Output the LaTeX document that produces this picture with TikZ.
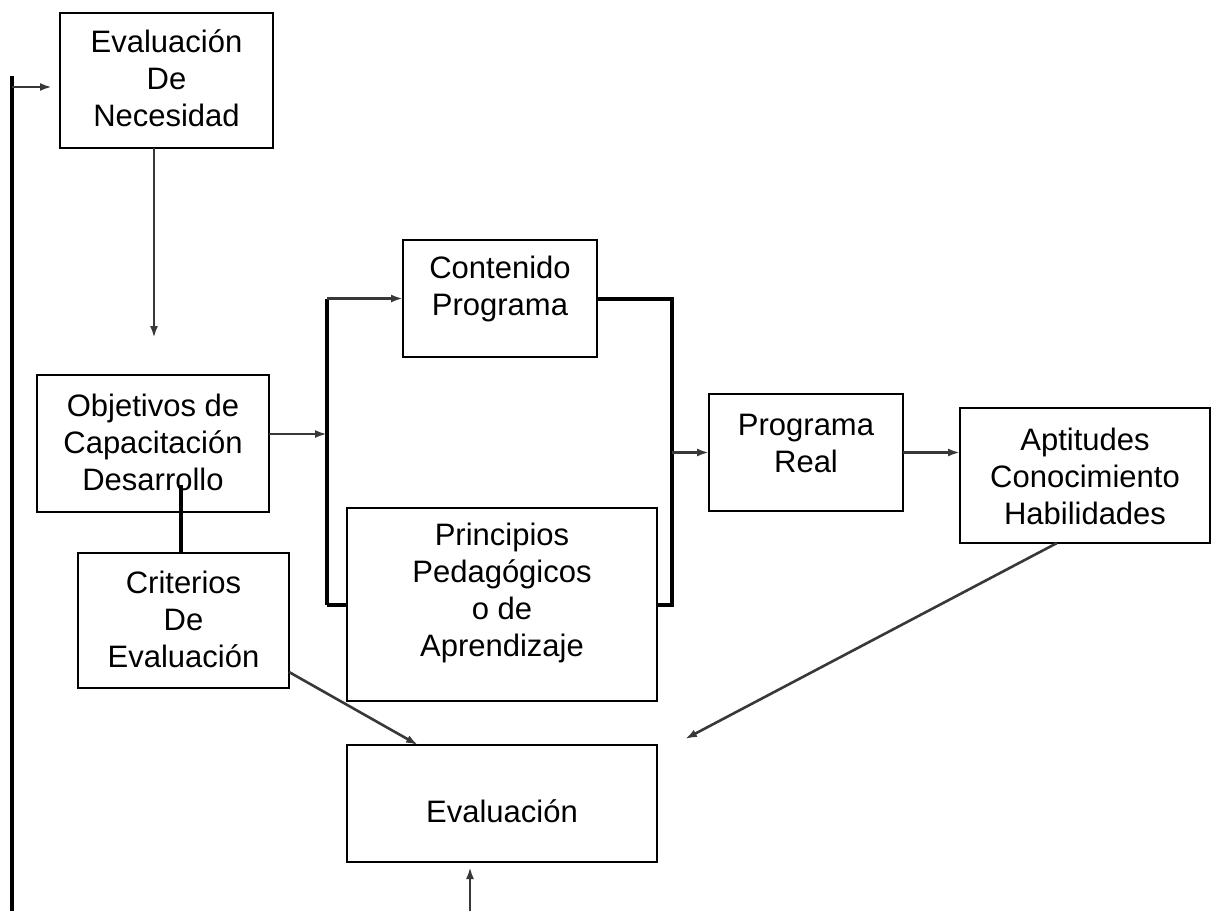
\documentclass[tikz,border=0pt]{standalone}
\usepackage{fontspec}
\setmainfont{Liberation Sans}
\usetikzlibrary{arrows.meta}

\tikzset{
  box/.style={draw=black, line width=2.6pt, fill=white, inner sep=0pt, outer sep=0pt},
  txt/.style={align=center, font=\fontsize{31}{37}\selectfont, inner sep=0pt},
  conn/.style={draw=black!78, line width=2.6pt, -{Latex[length=12pt,width=8pt]}},
  heavy/.style={draw=black, line width=4pt},
}

\begin{document}
\begin{tikzpicture}[x=1pt, y=-1pt]
  \useasboundingbox (0,0) rectangle (1220,911);

  % boxes
  \node[box, minimum width=213, minimum height=135] (necesidad)  at (166.5,80.5) {};
  \node[box, minimum width=194, minimum height=117] (contenido)  at (500,298.5) {};
  \node[box, minimum width=232, minimum height=137] (objetivos)  at (153,443.5) {};
  \node[box, minimum width=310, minimum height=193] (principios) at (502,604.5) {};
  \node[box, minimum width=194, minimum height=117] (real)       at (806,452.5) {};
  \node[box, minimum width=250, minimum height=135] (aptitudes)  at (1085,475.5) {};
  \node[box, minimum width=211, minimum height=135] (criterios)  at (183.5,620.5) {};
  \node[box, minimum width=310, minimum height=117] (evaluacion) at (502,803.5) {};

  % labels
  \node[txt] (necesidad-t)  at (166.5,78)  {Evaluación\\De\\Necesidad};
  \node[txt] (contenido-t)  at (500,289)   {Contenido\\Programa};
  \node[txt] (objetivos-t)  at (153,442)   {Objetivos de\\Capacitación\\Desarrollo};
  \node[txt] (principios-t) at (502,593)   {Principios\\Pedagógicos\\o de\\Aprendizaje};
  \node[txt] (real-t)       at (806,443)   {Programa\\Real};
  \node[txt] (aptitudes-t)  at (1085,476)  {Aptitudes\\Conocimiento\\Habilidades};
  \node[txt] (criterios-t)  at (183.5,619) {Criterios\\De\\Evaluación};
  \node[txt] (evaluacion-t) at (502,811)   {Evaluación};

  % helper points
  \coordinate (fb-top)  at (12,76);
  \coordinate (fb-bot)  at (12,911);
  \coordinate (fb-arr)  at (12,87);
  \coordinate (n-col)   at (154,0);
  \coordinate (o-out)   at (269,434);
  \coordinate (lb-top)  at (327,298.5);
  \coordinate (lb-bot)  at (327,604.5);
  \coordinate (rb-top)  at (672,298.5);
  \coordinate (rb-bot)  at (672,604.5);
  \coordinate (oc-top)  at (181,485);
  \coordinate (c-out)   at (289,672);
  \coordinate (e-col)   at (418,0);
  \coordinate (a-col)   at (1057,0);
  \coordinate (a-end)   at (685,739);
  \coordinate (b-start) at (470,911);

  % feedback loop on the left
  \draw[heavy] (fb-bot) -- (fb-top);
  \draw[conn, shorten >=8pt] (fb-arr) -- (fb-arr -| necesidad.west);

  % needs assessment -> objectives
  \draw[conn, shorten >=37pt] (necesidad.south -| n-col) -- (objetivos.north -| n-col);

  % objectives -> bracket
  \draw[heavy] (lb-top) -- (lb-bot);
  \draw[conn] (o-out) -- (o-out -| lb-top);
  \draw[conn] (lb-top) -- (contenido.west);
  \draw[heavy] (lb-bot) -- (principios.west);

  % bracket -> real program
  \draw[heavy] (contenido.east) -- (rb-top) -- (rb-bot) -- (principios.east);
  \draw[conn] (rb-top |- real.west) -- (real.west);
  \draw[conn] (real.east) -- (real.east -| aptitudes.west);

  % objectives -- criteria
  \draw[heavy] (oc-top) -- (oc-top |- criterios.north);

  % into evaluation
  \draw[conn] (c-out) -- (evaluacion.north -| e-col);
  \draw[conn] (aptitudes.south -| a-col) -- (a-end);
  \draw[conn, shorten >=5pt] (b-start) -- (evaluacion.south -| b-start);
\end{tikzpicture}
\end{document}
